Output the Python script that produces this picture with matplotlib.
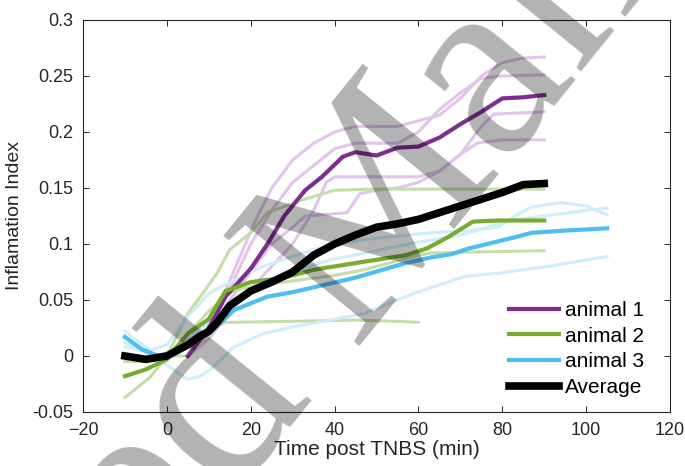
import numpy as np
import matplotlib
matplotlib.use('Agg')
import matplotlib.pyplot as plt

plt.rcParams['font.family'] = ['Liberation Sans', 'DejaVu Sans']

# animal 1 (purple)
a1_t = [5, 8, 10, 14, 20, 24, 28, 33, 37, 42, 45, 50, 55, 60, 65, 70, 75, 80, 85, 90]
a1_mean = [0.0, 0.015, 0.025, 0.053, 0.078, 0.1, 0.125, 0.148, 0.16, 0.178, 0.182, 0.179,
           0.186, 0.187, 0.195, 0.207, 0.218, 0.23, 0.231, 0.233]
a1_ind_t = [
    [5, 9, 13, 17, 21, 25, 30, 35, 40, 45, 50, 55, 60, 65, 70, 75, 80, 85, 90],
    [5, 10, 15, 20, 25, 30, 35, 40, 45, 50, 55, 60, 65, 70, 75, 80, 90],
    [5, 10, 15, 20, 25, 30, 33, 40, 43, 46, 50, 55, 60, 65, 70, 75, 78, 90],
    [5, 10, 15, 20, 25, 30, 35, 38, 40, 50, 60, 65, 70, 74, 80, 90],
]
a1_ind = [
    [0.0, 0.02, 0.05, 0.085, 0.12, 0.15, 0.175, 0.19, 0.2, 0.205, 0.205, 0.205, 0.21, 0.215,
     0.23, 0.25, 0.262, 0.266, 0.267],
    [0.0, 0.025, 0.06, 0.1, 0.13, 0.155, 0.17, 0.185, 0.19, 0.19, 0.19, 0.2, 0.22, 0.235,
     0.248, 0.25, 0.251],
    [0.0, 0.02, 0.05, 0.075, 0.1, 0.115, 0.125, 0.127, 0.128, 0.145, 0.148, 0.15, 0.155,
     0.165, 0.18, 0.205, 0.216, 0.218],
    [0.0, 0.015, 0.04, 0.06, 0.08, 0.1, 0.13, 0.155, 0.16, 0.16, 0.16, 0.165, 0.18, 0.19,
     0.193, 0.193],
]

# animal 2 (green)
a2_t = [-10, -5, 0, 5, 10, 14, 20, 28, 35, 45, 57, 62, 67, 73, 79, 90]
a2_mean = [-0.018, -0.012, -0.003, 0.02, 0.033, 0.058, 0.066, 0.07, 0.077, 0.083, 0.09,
           0.096, 0.106, 0.12, 0.121, 0.121]
a2_ind_t = [
    [-10, -4, 0, 5, 8, 12, 15, 20, 24, 32, 40, 50, 90],
    [-10, -5, 0, 5, 10, 15, 20, 30, 40, 47, 53, 60, 63, 75, 90],
    [0, 5, 8, 11, 14, 30, 45, 55, 60],
]
a2_ind = [
    [-0.037, -0.019, 0.0, 0.038, 0.053, 0.074, 0.095, 0.11, 0.128, 0.139, 0.148, 0.149, 0.149],
    [-0.005, -0.005, 0.0, 0.02, 0.04, 0.057, 0.062, 0.067, 0.072, 0.077, 0.083, 0.09, 0.092,
     0.093, 0.094],
    [0.0, 0.0, 0.012, 0.025, 0.03, 0.031, 0.032, 0.031, 0.03],
]

# animal 3 (blue)
a3_t = [-10, -6, -2, 2, 6, 11, 16, 24, 30, 37, 45, 57, 63, 68, 72, 83, 87, 95, 105]
a3_mean = [0.017, 0.006, 0.0, 0.004, 0.013, 0.023, 0.041, 0.053, 0.057, 0.063, 0.07, 0.083,
           0.088, 0.091, 0.096, 0.106, 0.11, 0.112, 0.114]
a3_ind_t = [
    [-10, -5, 0, 5, 10, 15, 23, 35, 47, 63, 72, 79, 83, 87, 94, 100, 105],
    [-10, -5, 0, 5, 10, 15, 20, 30, 39, 50, 59, 70, 82, 90, 100, 105],
    [-10, -5, 0, 5, 8, 11, 16, 23, 30, 39, 47, 59, 71, 79, 91, 105],
]
a3_ind = [
    [0.008, 0.004, 0.01, 0.035, 0.056, 0.066, 0.08, 0.095, 0.104, 0.11, 0.112, 0.115, 0.125,
     0.133, 0.137, 0.134, 0.126],
    [0.012, 0.003, 0.0, 0.015, 0.03, 0.045, 0.058, 0.075, 0.086, 0.094, 0.101, 0.108, 0.121,
     0.125, 0.13, 0.132],
    [0.022, 0.008, -0.008, -0.021, -0.018, -0.01, 0.008, 0.02, 0.026, 0.032, 0.038, 0.056,
     0.071, 0.074, 0.08, 0.089],
]

# average of the three animals
avg_t = [-10, -5, 0, 5, 8, 10, 12, 15, 20, 25, 30, 35, 40, 45, 50, 55, 60, 65, 70, 75, 80, 85, 90]
avg_v = [0.0, -0.003, 0.0, 0.01, 0.018, 0.022, 0.03, 0.045, 0.058, 0.066, 0.075, 0.09, 0.1,
         0.108, 0.115, 0.118, 0.122, 0.128, 0.134, 0.14, 0.146, 0.153, 0.154]

labels = ['animal 1', 'animal 2', 'animal 3', 'Average']
dark = ['#7E2F8E', '#77AC30', '#4DBEEE']
light = ['#e3c5ec', '#c5dea6', '#cdeefa']

fig = plt.figure(figsize=(6.85, 4.66), dpi=100)
ax = fig.add_axes([83/685, 1 - 412/466, 587/685, 392/466])

groups = [(a1_ind_t, a1_ind, a1_t, a1_mean),
          (a2_ind_t, a2_ind, a2_t, a2_mean),
          (a3_ind_t, a3_ind, a3_t, a3_mean)]
for k, (it, iv, mt, mv) in enumerate(groups):
    for tt, vv in zip(it, iv):
        ax.plot(tt, vv, color=light[k], lw=2.2, zorder=1)

handles = []
for k, (it, iv, mt, mv) in enumerate(groups):
    h, = ax.plot(mt, mv, color=dark[k], lw=3, zorder=2, label=labels[k])
    handles.append(h)
h, = ax.plot(avg_t, avg_v, color='black', lw=5.5, zorder=3, label=labels[3])
handles.append(h)

ax.set_xlim(-20, 120)
ax.set_ylim(-0.05, 0.3)
ax.set_xticks(np.arange(-20, 121, 20))
ax.set_yticks(np.arange(-0.05, 0.301, 0.05))
ax.set_yticklabels(['-0.05', '0', '0.05', '0.1', '0.15', '0.2', '0.25', '0.3'])
ax.tick_params(direction='in', top=True, right=True, length=4, width=0.7,
               colors='#262626', labelsize=13, pad=7)
for s in ax.spines.values():
    s.set_color('#262626')
    s.set_linewidth(0.8)

ax.set_xlabel('Time post TNBS (min)', fontsize=15, color='#262626', labelpad=1)
ax.set_ylabel('Inflamation Index', fontsize=14, color='#262626', labelpad=7)

leg = ax.legend(handles=handles, loc='lower right', frameon=False, fontsize=15,
                handlelength=2.4, handletextpad=0.3, labelspacing=0.32,
                borderaxespad=0, bbox_to_anchor=(0.970, 0.017))

# watermark
ang = 51
rad = np.deg2rad(ang)
ax0, ay0 = 352, 346
sp = 62
fig.text(ax0/685, 1 - ay0/466, 'Manuscript', rotation=ang, rotation_mode='anchor',
         ha='left', va='baseline', fontsize=192, family='Liberation Serif',
         color='black', alpha=0.3, zorder=10)
fig.text((ax0 - sp*np.cos(rad))/685, 1 - (ay0 + sp*np.sin(rad))/466, 'Accepted',
         rotation=ang, rotation_mode='anchor', ha='right', va='baseline', fontsize=192,
         family='Liberation Serif', color='black', alpha=0.3, zorder=10)

fig.savefig('out.png', dpi=100)
